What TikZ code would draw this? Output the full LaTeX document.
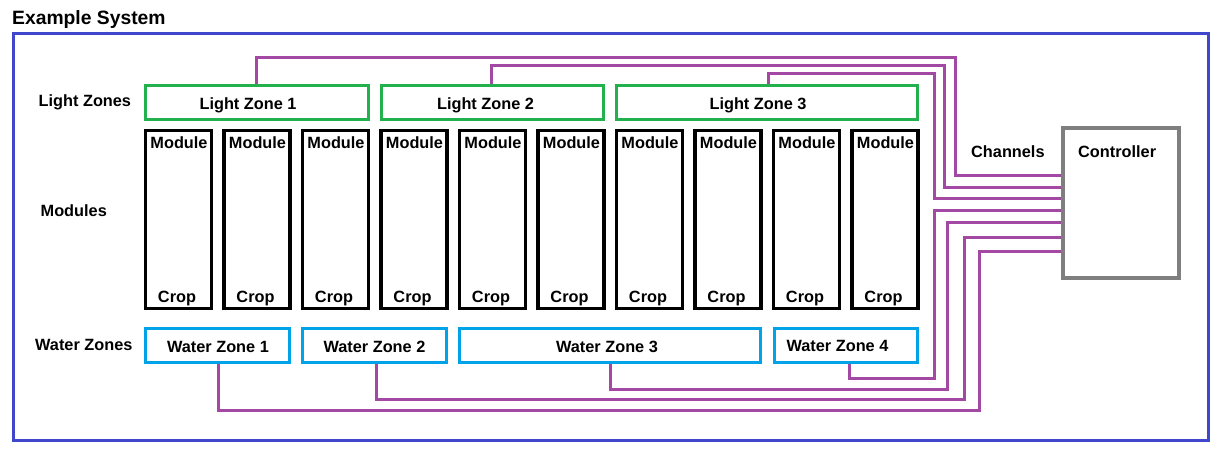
\documentclass[tikz,border=0pt]{standalone}
\usepackage{fontspec}
\setmainfont{Liberation Sans}
\usetikzlibrary{calc}
\definecolor{frameblue}{RGB}{63,72,204}
\definecolor{zgreen}{RGB}{34,177,76}
\definecolor{zcyan}{RGB}{0,162,232}
\definecolor{chpurple}{RGB}{163,73,164}
\definecolor{ctrlgray}{RGB}{127,127,127}
\tikzset{
  lbl/.style={font=\fontsize{16.3}{19}\selectfont\bfseries, inner sep=0, anchor=base},
  lblw/.style={lbl, anchor=base west},
  ttl/.style={font=\fontsize{19.3}{22}\selectfont\bfseries, inner sep=0, anchor=base west},
  lightzone/.style={draw=zgreen, line width=3, inner sep=0, minimum height=34},
  waterzone/.style={draw=zcyan, line width=3, inner sep=0, minimum height=34},
  modbox/.style={draw=black, line width=3.2, inner sep=0, minimum width=66, minimum height=178},
  ctrlbox/.style={draw=ctrlgray, line width=4, inner sep=0, minimum width=116, minimum height=150},
  chan/.style={draw=chpurple, line width=3},
}
\begin{document}
\begin{tikzpicture}[x=1pt,y=-1pt]
\useasboundingbox (0,0) rectangle (1223,459);
\fill[white] (0,0) rectangle (1223,459);
% title and frame
\node[ttl] (title) at (12,24) {Example System};
\node[draw=frameblue, line width=3, inner sep=0, minimum width=1195, minimum height=407] (frame) at (611,236.5) {};
% row labels
\node[lblw] (lzlbl) at (38.5,106) {Light Zones};
\node[lblw] (modlbl) at (40.5,216.7) {Modules};
\node[lblw] (wzlbl) at (35,350.5) {Water Zones};
% light zones
\node[lightzone, minimum width=223] (lz1) at (257,102.3) {};
\node[lightzone, minimum width=222] (lz2) at (492.5,102.3) {};
\node[lightzone, minimum width=300.5] (lz3) at (766.75,102.3) {};
\node[lbl] at (248,109) {Light Zone 1};
\node[lbl] at (485.5,109) {Light Zone 2};
\node[lbl] at (758,109) {Light Zone 3};
% modules
\foreach \i in {0,...,9}{
  \node[modbox] (m\i) at ({178.5+78.5*\i},219.5) {};
  \node[lbl] at ({179+78.5*\i},148) {Module};
  \node[lbl] at ({177+78.5*\i},302.5) {Crop};
}
% water zones
\node[waterzone, minimum width=144] (wz1) at (217.5,345.5) {};
\node[waterzone, minimum width=143.5] (wz2) at (374.25,345.5) {};
\node[waterzone, minimum width=301] (wz3) at (610,345.5) {};
\node[waterzone, minimum width=143] (wz4) at (846,345.5) {};
\node[lbl] at (218,352.5) {Water Zone 1};
\node[lbl] at (374.5,352.5) {Water Zone 2};
\node[lbl] at (607,352.5) {Water Zone 3};
\node[lbl] at (837.5,351.5) {Water Zone 4};
% controller
\node[ctrlbox] (ctrl) at (1120.5,202.5) {};
\node[lblw] (ctrltxt) at (1078,157) {Controller};
\node[lblw] (chlbl) at (971,157) {Channels};
% channels
\draw[chan] (lz1.north -| 256.5,0) |- (955.5,57.5) |- (ctrl.west |- 0,175.5);
\draw[chan] (lz2.north -| 491.3,0) |- (944,65.3) |- (ctrl.west |- 0,187);
\draw[chan] (lz3.north -| 768.7,0) |- (934,73.3) |- (ctrl.west |- 0,198);
\draw[chan] (wz4.south -| 849.5,0) |- (934.7,378.5) |- (ctrl.west |- 0,210.7);
\draw[chan] (wz3.south -| 610.7,0) |- (947.5,389.3) |- (ctrl.west |- 0,222.7);
\draw[chan] (wz2.south -| 376.7,0) |- (964.7,399.3) |- (ctrl.west |- 0,237.3);
\draw[chan] (wz1.south -| 218.7,0) |- (979.2,410.3) |- (ctrl.west |- 0,251.3);
\end{tikzpicture}
\end{document}
